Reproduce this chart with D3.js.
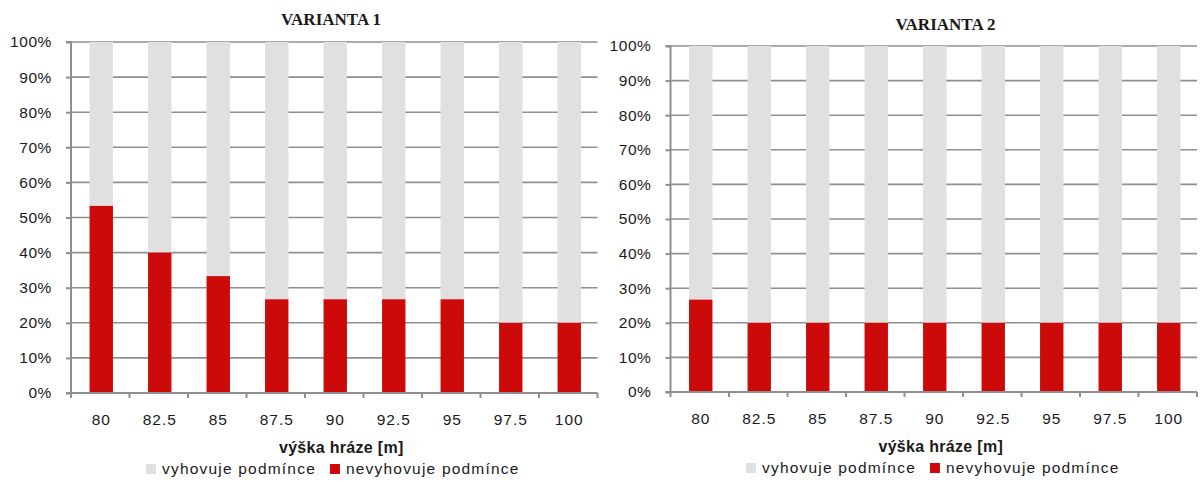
<!DOCTYPE html>
<html><head><meta charset="utf-8">
<script src="https://cdn.jsdelivr.net/npm/d3@7"></script>
<style>body{margin:0;background:#fff}svg{display:block}</style>
</head><body>
<svg id="c" width="1201" height="482"></svg>
<script>
const categories = ["80","82.5","85","87.5","90","92.5","95","97.5","100"];
const fail1 = [53.3,40,33.3,26.7,26.7,26.7,26.7,20,20];
const fail2 = [26.7,20,20,20,20,20,20,20,20];
const yTicks = [0,10,20,30,40,50,60,70,80,90,100];
const titles = ["VARIANTA 1","VARIANTA 2"];
const seriesNames = ["vyhovuje podmínce","nevyhovuje podmínce"];
const colors = {pass:"#e0e0e0", fail:"#cc0a0a", grid:"#8f8f8f", text:"#1a1a1a"};
const font = "'Liberation Sans', Arial, sans-serif";

const svg = d3.select("#c");

function drawChart(cfg){
  const g = svg.append("g");
  const x = d3.scaleBand().domain(categories).range([cfg.left, cfg.right]).paddingInner(0.6).paddingOuter(0.3);
  const xb = d3.scaleBand().domain(categories).range([cfg.left, cfg.right]);
  const y = d3.scaleLinear().domain([0,100]).range([cfg.bottom, cfg.top]);
  // gridlines
  g.selectAll("line.grid").data(yTicks.filter(d=>d>0)).enter().append("line")
    .attr("x1",cfg.left).attr("x2",cfg.right).attr("y1",d=>y(d)).attr("y2",d=>y(d))
    .attr("stroke",colors.grid).attr("stroke-width",1.6);
  // bars
  const data = categories.map((c,i)=>({c, fail:cfg.fail[i]}));
  g.selectAll("rect.pass").data(data).enter().append("rect")
    .attr("x",d=>x(d.c)+1).attr("width",x.bandwidth())
    .attr("y",y(100)).attr("height",d=>y(d.fail)-y(100)).attr("fill",colors.pass);
  g.selectAll("rect.fail").data(data).enter().append("rect")
    .attr("x",d=>x(d.c)+1).attr("width",x.bandwidth())
    .attr("y",d=>y(d.fail)).attr("height",d=>y(0)-y(d.fail)).attr("fill",colors.fail);
  // y axis
  const ya = g.append("g").attr("transform",`translate(${cfg.left},0)`)
    .call(d3.axisLeft(y).tickValues(yTicks).tickFormat(d=>d+"%").tickSize(5).tickPadding(14));
  ya.select(".domain").attr("stroke",colors.grid).attr("stroke-width",2).attr("d",`M-5,${cfg.top}H0V${cfg.bottom}H-5`);
  ya.selectAll(".tick line").attr("stroke",colors.grid).attr("stroke-width",2);
  ya.selectAll("text").attr("font-family",font).attr("font-size",15.5).attr("letter-spacing","0.6px").attr("fill",colors.text);
  // x axis
  const bounds = categories.map(c=>xb(c)).concat([cfg.right]);
  const xa = g.append("g").attr("transform",`translate(0,${cfg.bottom})`);
  xa.append("line").attr("x1",cfg.left).attr("x2",cfg.right).attr("stroke",colors.grid).attr("stroke-width",2);
  xa.selectAll("line.t").data(bounds).enter().append("line")
    .attr("x1",d=>d).attr("x2",d=>d).attr("y1",0).attr("y2",5).attr("stroke",colors.grid).attr("stroke-width",2);
  xa.selectAll("text").data(categories).enter().append("text")
    .attr("x",d=>xb(d)+xb.bandwidth()/2+1).attr("y",32).attr("text-anchor","middle")
    .attr("font-family",font).attr("font-size",15.5).attr("letter-spacing","1px").attr("fill",colors.text).text(d=>d);
  // axis title
  const cx = (cfg.left+cfg.right)/2;
  g.append("text").attr("x",cx+7).attr("y",cfg.bottom+60).attr("text-anchor","middle")
    .attr("font-family",font).attr("font-weight","bold").attr("font-size",16).attr("letter-spacing","0.3px")
    .attr("fill",colors.text).text("výška hráze [m]");
  // title
  g.append("text").attr("x",cfg.titleX).attr("y",cfg.titleY).attr("text-anchor","middle")
    .attr("font-family","'Liberation Serif', 'DejaVu Serif', serif").attr("font-weight","bold")
    .attr("font-size",17).attr("fill",colors.text).text(cfg.title);
  // legend
  const lg = g.append("g").attr("transform",`translate(${cfg.legendX},${cfg.bottom+81})`);
  let off = 0;
  [[seriesNames[0],colors.pass],[seriesNames[1],colors.fail]].forEach(([n,c],i)=>{
    lg.append("rect").attr("x",off).attr("y",-10).attr("width",10).attr("height",10).attr("fill",c);
    const t = lg.append("text").attr("x",off+16).attr("y",0).attr("font-family",font).attr("font-size",15.5)
      .attr("letter-spacing","1.2px").attr("fill",colors.text).text(n);
    off += 16 + t.node().getComputedTextLength() + 14;
  });
}

drawChart({left:71,right:597.5,top:42,bottom:393,fail:fail1,title:titles[0],titleX:331,titleY:25,legendX:146});
drawChart({left:670.5,right:1197,top:46,bottom:392,fail:fail2,title:titles[1],titleX:945.5,titleY:30,legendX:746});
</script>
</body></html>
